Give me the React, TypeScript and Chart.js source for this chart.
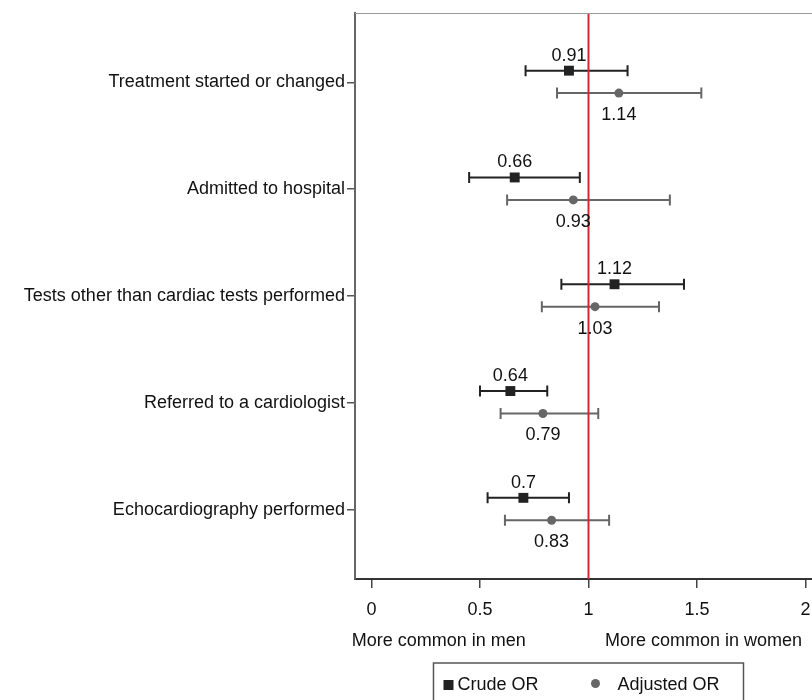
import React, { useEffect, useRef } from "react";
import { Chart, registerables } from "chart.js";

Chart.register(...registerables);

const categories = [
  "Treatment started or changed",
  "Admitted to hospital",
  "Tests other than cardiac tests performed",
  "Referred to a cardiologist",
  "Echocardiography performed",
];
const crudeOR = [0.91, 0.66, 1.12, 0.64, 0.7];
const crudeLow = [0.71, 0.45, 0.875, 0.5, 0.535];
const crudeHigh = [1.18, 0.96, 1.44, 0.81, 0.91];
const adjOR = [1.14, 0.93, 1.03, 0.79, 0.83];
const adjLow = [0.855, 0.625, 0.785, 0.595, 0.615];
const adjHigh = [1.52, 1.375, 1.325, 1.045, 1.095];
const xTicks = [0, 0.5, 1, 1.5, 2];
const sideLabels = ["More common in men", "More common in women"];
const sideLabelAt = [0.31, 1.53];
const refValue = 1;
const legendLabels = ["Crude OR", "Adjusted OR"];

const FONT = '"Liberation Sans", Arial, Helvetica, sans-serif';
const X_MIN = -0.076;
const X_MAX = 2.03;

export default function App() {
  const ref = useRef<HTMLCanvasElement>(null);

  useEffect(() => {
    const canvas = ref.current;
    if (!canvas) return;
    Chart.defaults.font.family = FONT;
    Chart.defaults.font.size = 18;
    Chart.defaults.color = "#111";

    const bars = [
      { lo: crudeLow, hi: crudeHigh, vals: crudeOR, color: "#222", dy: -15 },
      { lo: adjLow, hi: adjHigh, vals: adjOR, color: "#666", dy: 22 },
    ];

    const forest = {
      id: "forest",
      beforeDatasetsDraw(chart: any) {
        const { ctx, chartArea } = chart;
        const xs = chart.scales.x;
        ctx.save();
        bars.forEach((b, di) => {
          const meta = chart.getDatasetMeta(di);
          ctx.strokeStyle = b.color;
          ctx.lineWidth = 2;
          meta.data.forEach((pt: any, i: number) => {
            const x1 = xs.getPixelForValue(b.lo[i]);
            const x2 = xs.getPixelForValue(b.hi[i]);
            const y = pt.y;
            ctx.beginPath();
            ctx.moveTo(x1, y);
            ctx.lineTo(x2, y);
            ctx.moveTo(x1, y - 5.5);
            ctx.lineTo(x1, y + 5.5);
            ctx.moveTo(x2, y - 5.5);
            ctx.lineTo(x2, y + 5.5);
            ctx.stroke();
          });
        });
        const rx = xs.getPixelForValue(refValue);
        ctx.strokeStyle = "#d62631";
        ctx.lineWidth = 2;
        ctx.beginPath();
        ctx.moveTo(rx, chartArea.top);
        ctx.lineTo(rx, chartArea.bottom);
        ctx.stroke();
        ctx.restore();
      },
      afterDatasetsDraw(chart: any) {
        const { ctx } = chart;
        ctx.save();
        ctx.font = `18px ${FONT}`;
        ctx.fillStyle = "#111";
        ctx.textAlign = "center";
        ctx.textBaseline = "middle";
        bars.forEach((b, di) => {
          const meta = chart.getDatasetMeta(di);
          meta.data.forEach((pt: any, i: number) => {
            ctx.fillText(String(b.vals[i]), pt.x, pt.y + b.dy);
          });
        });
        ctx.restore();
      },
      afterDraw(chart: any) {
        const { ctx, chartArea } = chart;
        const xs = chart.scales.x;
        ctx.save();
        // top frame line
        ctx.strokeStyle = "#999";
        ctx.lineWidth = 1;
        ctx.beginPath();
        ctx.moveTo(chartArea.left, chartArea.top + 0.5);
        ctx.lineTo(chartArea.right, chartArea.top + 0.5);
        ctx.stroke();
        // legend
        const cx = xs.getPixelForValue(refValue);
        const left = cx - 155;
        const top = chartArea.bottom + 84;
        ctx.strokeStyle = "#555";
        ctx.lineWidth = 1.5;
        ctx.strokeRect(left, top, 310, 60);
        const cy = top + 22;
        ctx.fillStyle = "#222";
        ctx.fillRect(left + 10, cy - 5, 10, 10);
        ctx.fillStyle = "#666";
        ctx.beginPath();
        ctx.arc(left + 162, cy - 1.5, 4.5, 0, Math.PI * 2);
        ctx.fill();
        ctx.font = `18px ${FONT}`;
        ctx.fillStyle = "#111";
        ctx.textAlign = "left";
        ctx.textBaseline = "middle";
        ctx.fillText(legendLabels[0], left + 24, cy);
        ctx.fillText(legendLabels[1], left + 184, cy);
        ctx.restore();
      },
    };

    const chart = new Chart(canvas, {
      type: "scatter",
      data: {
        datasets: [
          {
            label: legendLabels[0],
            data: crudeOR.map((v, i) => ({ x: v, y: i - 0.11 })),
            pointStyle: "rect",
            pointRadius: 7,
            backgroundColor: "#222",
            borderColor: "#222",
            borderWidth: 0,
          },
          {
            label: legendLabels[1],
            data: adjOR.map((v, i) => ({ x: v, y: i + 0.1 })),
            pointStyle: "circle",
            pointRadius: 4.5,
            backgroundColor: "#666",
            borderColor: "#666",
            borderWidth: 0,
          },
        ],
      },
      options: {
        animation: false,
        responsive: false,
        layout: { autoPadding: false, padding: { top: 13, bottom: 44, left: 0, right: 0 } },
        plugins: { legend: { display: false }, tooltip: { enabled: false } },
        scales: {
          x: {
            type: "linear",
            position: "bottom",
            min: X_MIN,
            max: X_MAX,
            afterBuildTicks: (s: any) => {
              s.ticks = xTicks.map((v) => ({ value: v }));
            },
            afterFit: (s: any) => {
              s.height = 42;
              s.paddingLeft = 0;
              s.paddingRight = 0;
            },
            grid: { drawOnChartArea: false, tickLength: 9, color: "#444", lineWidth: 1.5 },
            border: { color: "#333", width: 2 },
            ticks: {
              padding: 11,
              autoSkip: false,
              maxRotation: 0,
              callback: (v: any) => String(v),
            },
          },
          x2: {
            type: "linear",
            position: "bottom",
            min: X_MIN,
            max: X_MAX,
            afterBuildTicks: (s: any) => {
              s.ticks = sideLabelAt.map((v) => ({ value: v }));
            },
            afterFit: (s: any) => {
              s.height = 35;
              s.paddingLeft = 0;
              s.paddingRight = 0;
            },
            grid: { display: false, drawTicks: false },
            border: { display: false },
            ticks: {
              padding: 9,
              autoSkip: false,
              maxRotation: 0,
              callback: (_v: any, i: number) => sideLabels[i],
            },
          },
          y: {
            type: "linear",
            reverse: true,
            min: -0.65,
            max: 4.65,
            afterBuildTicks: (s: any) => {
              s.ticks = categories.map((_c, i) => ({ value: i }));
            },
            afterFit: (s: any) => {
              s.width = 355;
              s.paddingTop = 0;
              s.paddingBottom = 0;
            },
            grid: { drawOnChartArea: false, tickLength: 8, color: "#555", lineWidth: 1.5 },
            border: { color: "#666", width: 2 },
            ticks: {
              padding: 2,
              autoSkip: false,
              callback: (v: any) => categories[v as number],
            },
          },
        },
      } as any,
      plugins: [forest],
    });
    return () => chart.destroy();
  }, []);

  return (
    <div style={{ position: "absolute", left: 0, top: 0, width: 812, height: 700, overflow: "hidden", background: "#fff" }}>
      <canvas ref={ref} width={812} height={700} style={{ display: "block" }} />
    </div>
  );
}
